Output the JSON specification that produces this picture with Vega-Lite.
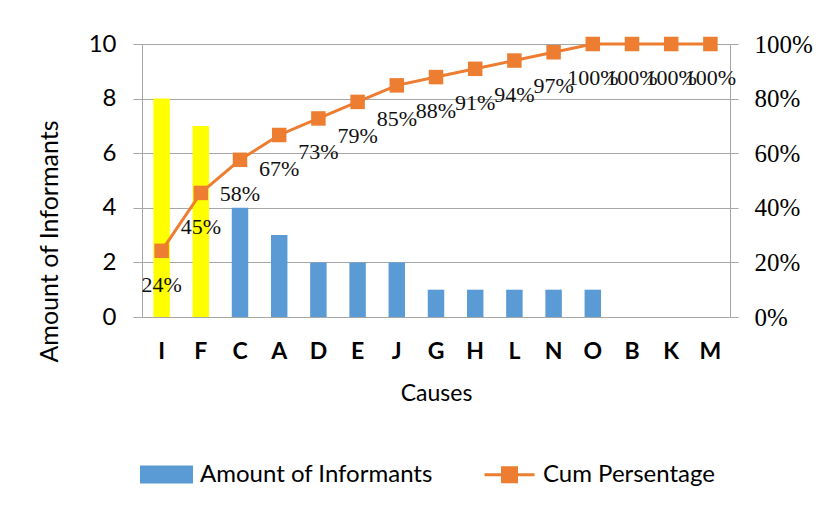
{
  "$schema": "https://vega.github.io/schema/vega-lite/v6.json",
  "width": 588,
  "height": 273,
  "autosize": {"type": "none"},
  "padding": {"left": 142, "top": 44, "right": 92, "bottom": 200},
  "background": "white",
  "config": {"view": {"stroke": null}},
  "data": {"values": [
    {"cause": "I", "amount": 8, "cum": 0.2424},
    {"cause": "F", "amount": 7, "cum": 0.4545},
    {"cause": "C", "amount": 4, "cum": 0.5758},
    {"cause": "A", "amount": 3, "cum": 0.6667},
    {"cause": "D", "amount": 2, "cum": 0.7273},
    {"cause": "E", "amount": 2, "cum": 0.7879},
    {"cause": "J", "amount": 2, "cum": 0.8485},
    {"cause": "G", "amount": 1, "cum": 0.8788},
    {"cause": "H", "amount": 1, "cum": 0.9091},
    {"cause": "L", "amount": 1, "cum": 0.9394},
    {"cause": "N", "amount": 1, "cum": 0.9697},
    {"cause": "O", "amount": 1, "cum": 1.0},
    {"cause": "B", "amount": 0, "cum": 1.0},
    {"cause": "K", "amount": 0, "cum": 1.0},
    {"cause": "M", "amount": 0, "cum": 1.0}
  ]},
  "encoding": {
    "x": {
      "field": "cause", "type": "nominal", "sort": null,
      "scale": {"paddingInner": 0.58, "paddingOuter": 0.29},
      "axis": {
        "title": "Causes", "titleFont": "Lato", "titleFontSize": 23, "titleFontWeight": "normal", "titleColor": "#000", "titlePadding": 19,
        "labelFont": "Lato", "labelFontWeight": "bold", "labelFontSize": 23, "labelColor": "#000", "labelAngle": 0, "labelPadding": 23,
        "ticks": false, "domain": false
      }
    }
  },
  "layer": [
    {
      "mark": {"type": "bar"},
      "encoding": {
        "y": {
          "field": "amount", "type": "quantitative", "scale": {"domain": [0, 10]},
          "axis": {
            "title": "Amount of Informants", "titleFont": "Lato", "titleFontSize": 25, "titleFontWeight": "normal", "titleColor": "#000", "titlePadding": 26, "titleY": 197,
            "labelFont": "Lato", "labelFontSize": 24, "labelColor": "#000", "labelPadding": 17,
            "values": [0, 2, 4, 6, 8, 10], "grid": true, "gridColor": "#A6A6A6", "tickColor": "#A6A6A6", "tickSize": 9, "domainColor": "#A6A6A6"
          }
        },
        "color": {
          "condition": {"test": "datum.cause === 'I' || datum.cause === 'F'", "value": "#FFFF00"},
          "datum": "Amount of Informants", "type": "nominal",
          "scale": {"domain": ["Amount of Informants", "Cum Persentage"], "range": ["#5B9BD5", "#ED7D31"]},
          "legend": {
            "orient": "none", "legendX": -2, "legendY": 404, "direction": "horizontal", "title": null,
            "labelFont": "Lato", "labelFontSize": 24, "labelColor": "#000", "labelOffset": 7, "columnPadding": 45, "labelLimit": 0,
            "symbolSize": 2500, "symbolStrokeWidth": 3, "symbolOpacity": 1,
            "encode": {
              "symbols": {
                "update": {
                  "shape": {"signal": "datum.value === 'Cum Persentage' ? 'M-1,0H1M-0.28,-0.28H0.28V0.28H-0.28Z' : 'M-1,-0.3H1V0.3H-1Z'"},
                  "fill": {"signal": "datum.value === 'Cum Persentage' ? '#ED7D31' : '#5B9BD5'"},
                  "stroke": {"signal": "datum.value === 'Cum Persentage' ? '#ED7D31' : 'transparent'"},
                  "strokeWidth": {"value": 3},
                  "opacity": {"value": 1}
                }
              }
            }
          }
        }
      }
    },
    {
      "encoding": {
        "y": {
          "field": "cum", "type": "quantitative", "scale": {"domain": [0, 1]},
          "axis": {
            "orient": "right", "title": null, "format": ".0%", "values": [0, 0.2, 0.4, 0.6, 0.8, 1],
            "grid": false, "labelFont": "Liberation Serif", "labelFontSize": 25, "labelColor": "#000", "labelPadding": 16,
            "tickSize": 8, "tickColor": "#A6A6A6", "domainColor": "#A6A6A6"
          }
        }
      },
      "layer": [
        {
          "mark": {"type": "line", "strokeWidth": 3},
          "encoding": {"color": {"datum": "Cum Persentage", "type": "nominal"}}
        },
        {
          "mark": {"type": "point", "shape": "square", "filled": true, "size": 210, "opacity": 1},
          "encoding": {"color": {"datum": "Cum Persentage", "type": "nominal"}}
        },
        {
          "mark": {"type": "text", "dy": 34, "font": "Liberation Serif", "fontSize": 22, "color": "#111"},
          "encoding": {"text": {"field": "cum", "type": "quantitative", "format": ".0%"}}
        }
      ]
    }
  ],
  "resolve": {"scale": {"y": "independent"}}
}
